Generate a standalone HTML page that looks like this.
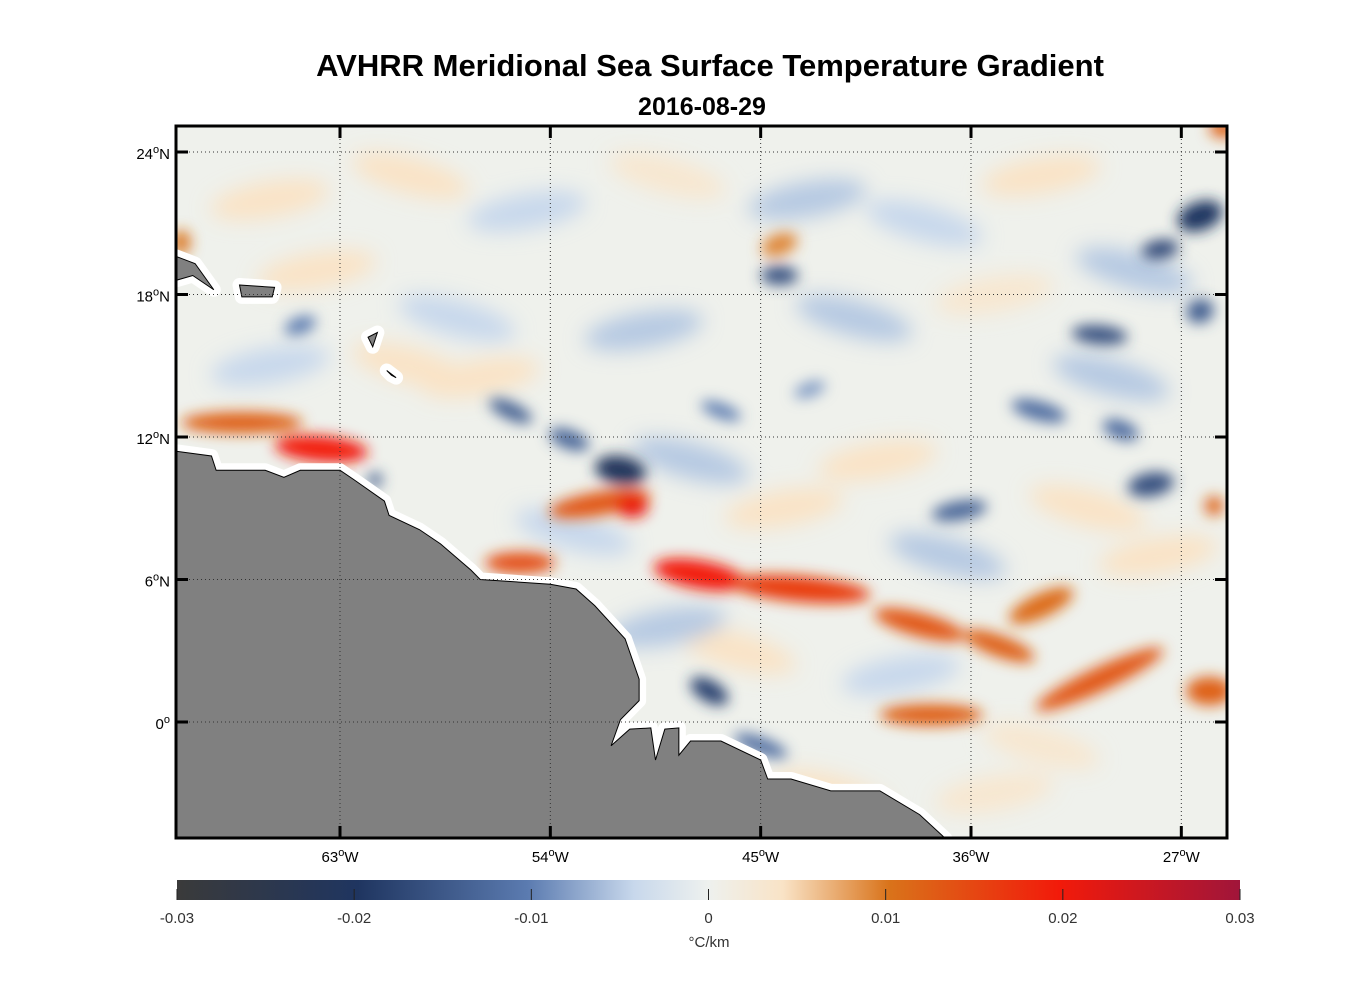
<!DOCTYPE html>
<html><head><meta charset="utf-8">
<style>
body{margin:0;background:#fff;width:1356px;height:1000px;overflow:hidden;font-family:"Liberation Sans",Arial,sans-serif}
</style></head>
<body>
<svg id="chart" width="1356" height="1000" xmlns="http://www.w3.org/2000/svg">
<defs>
<filter id="blur" x="-50%" y="-50%" width="200%" height="200%"><feGaussianBlur stdDeviation="7"/></filter>
<filter id="blur2" x="-50%" y="-50%" width="200%" height="200%"><feGaussianBlur stdDeviation="10"/></filter>
<clipPath id="plotclip"><rect x="177" y="127" width="1049" height="710"/></clipPath>
<linearGradient id="cbar" x1="0" x2="1" y1="0" y2="0">
<stop offset="0" stop-color="#3a3a3a"/><stop offset="0.17" stop-color="#1f3560"/>
<stop offset="0.33" stop-color="#5b7bb0"/><stop offset="0.43" stop-color="#c8d8ec"/>
<stop offset="0.5" stop-color="#eef1ee"/><stop offset="0.57" stop-color="#f9e3c6"/>
<stop offset="0.67" stop-color="#d9731a"/><stop offset="0.83" stop-color="#f21a0a"/>
<stop offset="1" stop-color="#a0153a"/></linearGradient>
</defs>
<text x="710" y="76" text-anchor="middle" font-size="31" font-weight="bold">AVHRR Meridional Sea Surface Temperature Gradient</text>
<text x="702" y="115" text-anchor="middle" font-size="25" font-weight="bold">2016-08-29</text>
<g clip-path="url(#plotclip)">
<rect x="177" y="127" width="1049" height="710" fill="#eff1ec"/>
<g id="faint" filter="url(#blur2)"></g>
<g id="blobs" filter="url(#blur)"></g>
<g id="land"></g>
<g id="grid"></g>
</g>
<rect x="176" y="126" width="1051" height="712" fill="none" stroke="#000" stroke-width="3"/>
<g id="ticks"></g>
<rect x="177" y="880" width="1063" height="20" fill="url(#cbar)"/>
<g id="cbticks"></g>
<text x="709" y="947" text-anchor="middle" font-size="15" fill="#333">°C/km</text>
</svg>
<script>
const lonTicks=[-63,-54,-45,-36,-27];
const lonLabels=['63','54','45','36','27'];
const latTicks=[24,18,12,6,0];
const latLabels=['24','18','12','6','0'];
const cbValues=[-0.03,-0.02,-0.01,0,0.01,0.02,0.03];
const cbLabels=['-0.03','-0.02','-0.01','0','0.01','0.02','0.03'];
// strong features: lon, lat, rx(deg), ry(deg), angle, gradient value
const blobLon=[-63.8,-67.2,-51.9,-50.5,-55.3,-47.6,-43.3,-38.2,-34.8,-33,-37.7,-30.5,-25.8,-44.2,-25.6,-25.2,-69.8,
 -51,-53.2,-55.7,-47.2,-44.2,-26.2,-27.9,-30.5,-26.2,-29.6,-28.3,-36.5,-33.1,-64.7,-46.7,-42.9,-45,-61.5];
const blobLat=[11.5,12.6,9.2,9.1,6.7,6.2,5.6,4.1,3.2,4.9,0.3,1.8,1.3,20.1,9.1,25,20.2,
 10.6,11.9,13.1,1.3,18.8,21.3,19.9,16.3,17.3,12.3,10,8.9,13.1,16.7,13.1,14,-1,10.2];
const blobRx=[2,2.6,2.2,0.7,1.5,2,3,2,1.6,1.5,2.2,3,1,0.8,0.4,0.6,0.4,
 1.1,0.9,1,0.9,0.8,1,0.8,1.2,0.6,0.8,1,1.2,1.2,0.7,0.9,0.7,1.2,0.3];
const blobRy=[0.55,0.45,0.5,0.5,0.45,0.6,0.55,0.5,0.45,0.5,0.45,0.5,0.6,0.45,0.4,0.4,0.5,
 0.6,0.4,0.35,0.45,0.4,0.6,0.4,0.4,0.5,0.4,0.5,0.4,0.4,0.35,0.3,0.3,0.35,0.3];
const blobAng=[5,0,-10,0,0,10,5,15,20,-25,0,-25,0,-20,0,0,0,
 10,20,25,30,0,-20,-10,5,-20,20,-10,-10,15,-20,20,-20,20,0];
const blobVal=[0.02,0.012,0.013,0.021,0.014,0.02,0.016,0.013,0.012,0.011,0.012,0.013,0.012,0.009,0.012,0.012,0.01,
 -0.021,-0.013,-0.014,-0.018,-0.016,-0.02,-0.017,-0.016,-0.014,-0.012,-0.016,-0.013,-0.012,-0.01,-0.01,-0.008,-0.012,-0.015];
// faint background texture
const faintLon=[-66,-60,-55,-49,-43,-38,-33,-29,-64,-58,-50,-41,-35,-30,-57,-48,-40,-31,-66,-53,-44,-37,-28,-46,-39,-33,-35,-42,-49,-60];
const faintLat=[22,23,21.5,23,22,21,23,19,19,17,16.5,17,18,14.5,14.5,11,11,9,15,8,9,7,7,3,2,-1,-3,-3,4,15];
const faintVal=[0.004,0.004,-0.004,0.003,-0.005,-0.004,0.004,-0.005,0.004,-0.004,-0.005,-0.005,0.003,-0.005,0.004,-0.005,0.004,0.004,-0.004,-0.004,0.004,-0.005,0.004,0.004,-0.004,0.003,0.003,0.004,-0.005,0.004];

const X=lon=>340+(lon+63)*23.37;
const Y=lat=>722-lat*23.75;
const CB=v=>177+(v+0.03)/0.06*1063;
const NS='http://www.w3.org/2000/svg';
function mk(tag,parent){const e=document.createElementNS(NS,tag);document.getElementById(parent).appendChild(e);return e;}
const stops=[[-0.03,[58,58,58]],[-0.02,[31,53,96]],[-0.01,[91,123,176]],[-0.004,[200,216,236]],[0,[239,241,236]],[0.004,[249,227,198]],[0.01,[217,115,26]],[0.02,[242,26,10]],[0.03,[160,21,58]]];
function cmap(v){for(let i=0;i<stops.length-1;i++){const a=stops[i],b=stops[i+1];if(v<=b[0]){const t=Math.max(0,(v-a[0])/(b[0]-a[0]));return 'rgb('+a[1].map((c,k)=>Math.round(c+(b[1][k]-c)*t)).join(',')+')';}}return 'rgb(160,21,58)';}
for(let i=0;i<faintLon.length;i++){
 const e=mk('ellipse','faint');
 
 
 const cx=X(faintLon[i]),cy=Y(faintLat[i]);
 e.setAttribute('cx',cx);e.setAttribute('cy',cy);e.setAttribute('rx',60);e.setAttribute('ry',18);
 e.setAttribute('transform','rotate('+(i%2?15:-10)+' '+cx+' '+cy+')');
 e.setAttribute('fill',cmap(faintVal[i]));
}
for(let i=0;i<blobLon.length;i++){
 const e=mk('ellipse','blobs');
 
 
 const cx=X(blobLon[i]),cy=Y(blobLat[i]);
 e.setAttribute('cx',cx);e.setAttribute('cy',cy);
 e.setAttribute('rx',blobRx[i]*23.37);e.setAttribute('ry',blobRy[i]*23.75);
 e.setAttribute('transform','rotate('+blobAng[i]+' '+cx+' '+cy+')');
 e.setAttribute('fill',cmap(blobVal[i]));
}
const coastLon=[-70,-68.5,-68.3,-66.2,-65.4,-64.7,-63,-62.4,-61.1,-60.9,-59.6,-58.7,-57.4,-57,-54,-52.9,-52.1,-50.8,-50.2,-50.2,-51,-51.4,-50.6,-49.7,-49.5,-49.1,-48.5,-48.5,-48,-46.7,-45,-44.7,-43.7,-42,-39.9,-38.2,-37.1,-70];
const coastLat=[11.4,11.2,10.6,10.6,10.3,10.6,10.6,10.2,9.3,8.7,8.1,7.5,6.4,6.0,5.8,5.6,4.9,3.5,1.8,0.9,0.1,-1.0,-0.3,-0.25,-1.6,-0.3,-0.25,-1.4,-0.8,-0.8,-1.6,-2.4,-2.4,-2.9,-2.9,-3.9,-4.9,-4.9];
const islandLon=[[-67.3,-65.8,-65.9,-67.2],[-70,-69.2,-68.4,-69.3,-70],[-61.8,-61.4,-61.6],[-61,-60.6,-60.8]];
const islandLat=[[18.4,18.3,17.9,17.9],[19.6,19.3,18.2,18.8,18.6],[16.2,16.4,15.8],[14.8,14.5,14.6]];
function poly(lons,lats,name){
 const pts=lons.map((l,i)=>X(l)+','+Y(lats[i])).join(' ');
 const w=mk('polygon','land');w.setAttribute('points',pts);w.setAttribute('fill','#fff');w.setAttribute('stroke','#fff');w.setAttribute('stroke-width','14');w.setAttribute('stroke-linejoin','round');
 
 
 const p=mk('polygon','land');p.setAttribute('points',pts);p.setAttribute('fill','#808080');p.setAttribute('stroke','#000');p.setAttribute('stroke-width','1');
 
 
}
poly(coastLon,coastLat,'south-america-land');
islandLon.forEach((l,i)=>poly(l,islandLat[i],'island'));
lonTicks.forEach((l,i)=>{
 const x=X(l);
 const g=mk('line','grid');g.setAttribute('x1',x);g.setAttribute('x2',x);g.setAttribute('y1',127);g.setAttribute('y2',837);g.setAttribute('stroke','#333');g.setAttribute('stroke-width','1');g.setAttribute('stroke-dasharray','1,3');
 
 
 [[126,138],[826,838]].forEach(([a,b])=>{const t=mk('line','ticks');t.setAttribute('x1',x);t.setAttribute('x2',x);t.setAttribute('y1',a);t.setAttribute('y2',b);t.setAttribute('stroke','#000');t.setAttribute('stroke-width','3');
 
 });
 const tx=mk('text','ticks');tx.setAttribute('x',x);tx.setAttribute('y',862);tx.setAttribute('text-anchor','middle');tx.setAttribute('font-size','15');
 tx.innerHTML=lonLabels[i]+'<tspan dy="-6" font-size="11">o</tspan><tspan dy="6">W</tspan>';
 
 
});
latTicks.forEach((l,i)=>{
 const y=Y(l);
 const g=mk('line','grid');g.setAttribute('x1',177);g.setAttribute('x2',1226);g.setAttribute('y1',y);g.setAttribute('y2',y);g.setAttribute('stroke','#333');g.setAttribute('stroke-width','1');g.setAttribute('stroke-dasharray','1,3');
 
 
 [[176,188],[1215,1227]].forEach(([a,b])=>{const t=mk('line','ticks');t.setAttribute('x1',a);t.setAttribute('x2',b);t.setAttribute('y1',y);t.setAttribute('y2',y);t.setAttribute('stroke','#000');t.setAttribute('stroke-width','3');
 
 });
 const tx=mk('text','ticks');tx.setAttribute('x',170);tx.setAttribute('y',y+7);tx.setAttribute('text-anchor','end');tx.setAttribute('font-size','15');
 tx.innerHTML=latLabels[i]+'<tspan dy="-6" font-size="11">o</tspan>'+(l===0?'':'<tspan dy="6">N</tspan>');
 
 
});
cbValues.forEach((v,i)=>{
 const x=CB(v);
 const t=mk('line','cbticks');t.setAttribute('x1',x);t.setAttribute('x2',x);t.setAttribute('y1',889);t.setAttribute('y2',900);t.setAttribute('stroke','#222');t.setAttribute('stroke-width','1');
 
 
 const tx=mk('text','cbticks');tx.setAttribute('x',x);tx.setAttribute('y',923);tx.setAttribute('text-anchor','middle');tx.setAttribute('font-size','15');tx.setAttribute('fill','#333');tx.textContent=cbLabels[i];
 
 
});
</script>
</body></html>
